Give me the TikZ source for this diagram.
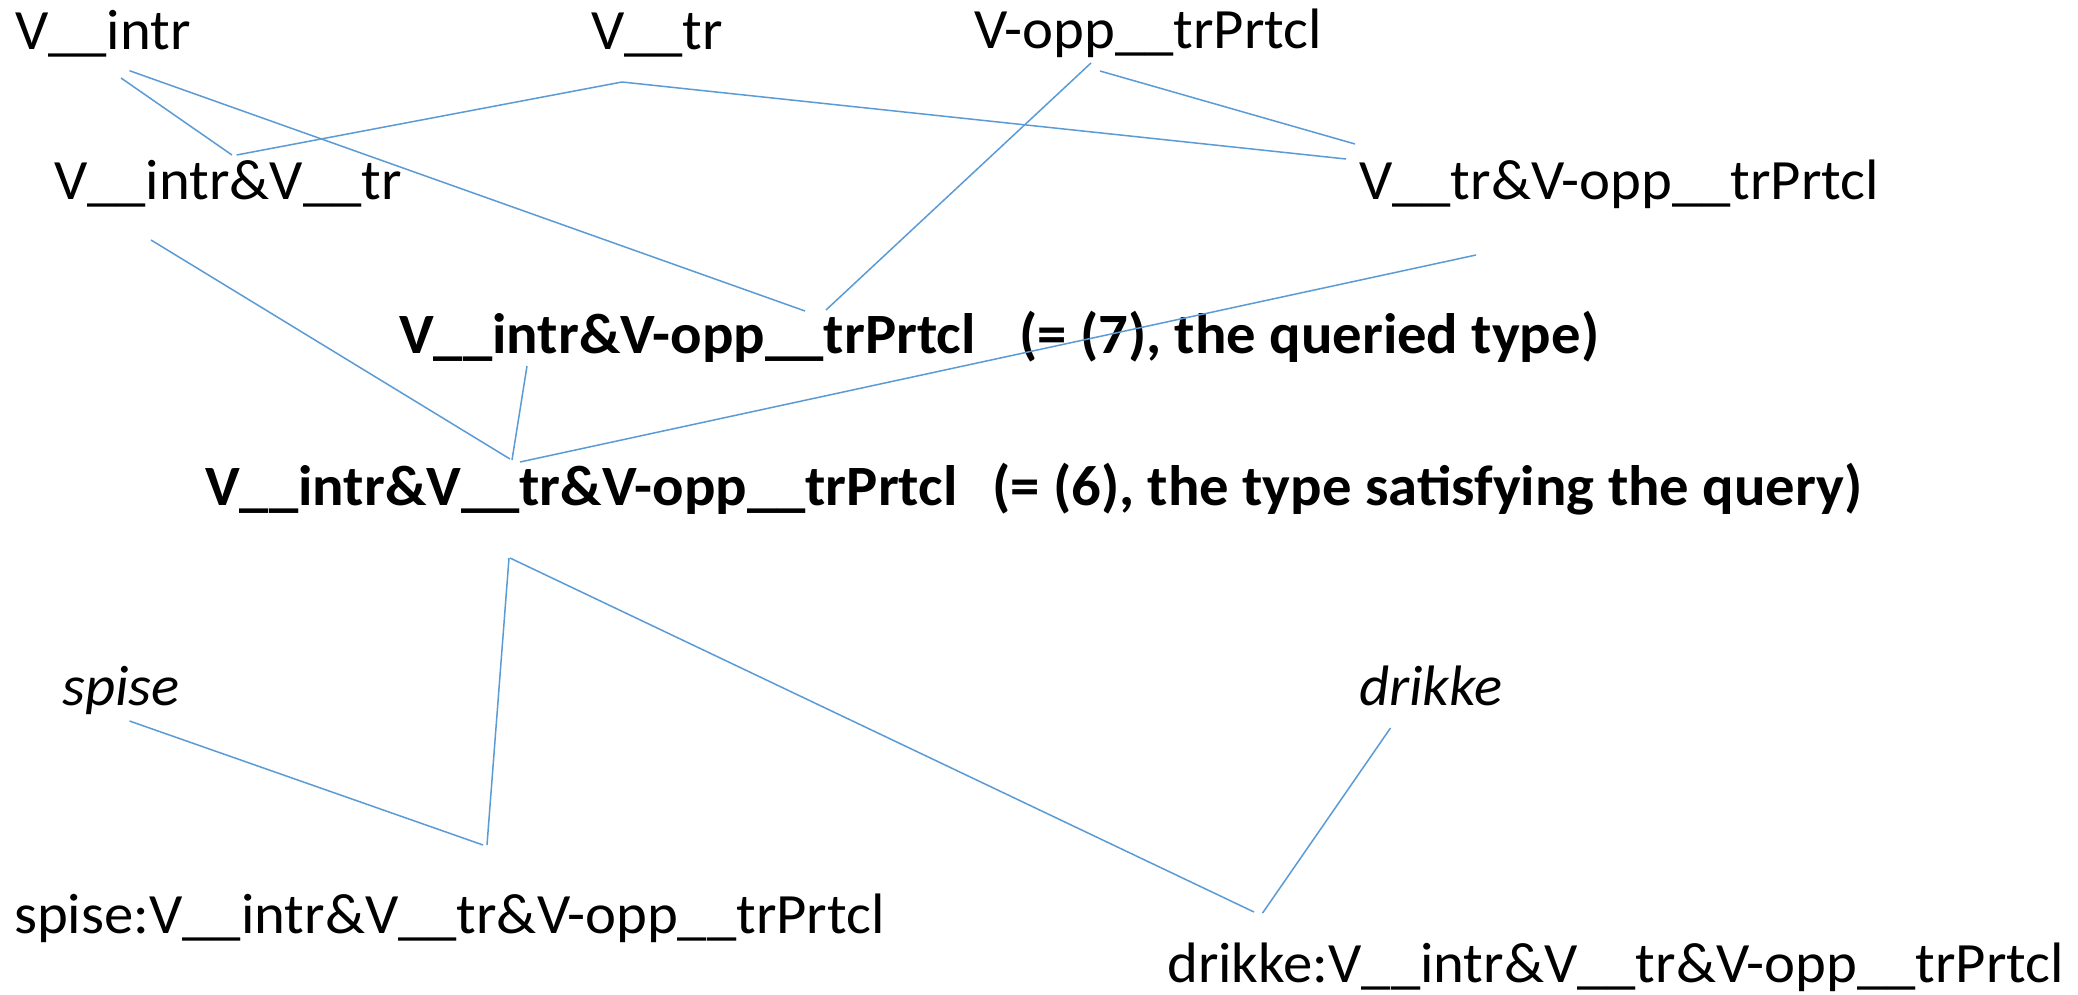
\documentclass[tikz,border=0pt]{standalone}
\usepackage{fontspec}
\setmainfont{Carlito}[FakeStretch=1.03]
\definecolor{linkblue}{RGB}{91,155,213}
\begin{document}
\begin{tikzpicture}[x=1pt,y=-1pt,
  lbl/.style={inner sep=0pt,anchor=base west,font=\fontsize{57}{68}\selectfont},
  blbl/.style={lbl,font=\fontsize{57}{68}\selectfont\bfseries},
  ilbl/.style={lbl,font=\fontsize{57}{68}\selectfont\itshape},
  link/.style={draw=linkblue,line width=1.5pt}]
\fill[white] (0,0) rectangle (2078,995);
\useasboundingbox (0,0) rectangle (2078,995);
% nodes
\node[lbl] (intr) at (15,50) {V\_\_intr};
\node[lbl] (tr) at (591,50) {V\_\_tr};
\node[lbl] (opp) at (974,49) {V-opp\_\_trPrtcl};
\node[lbl] (intrtr) at (54,200) {V\_\_intr\&V\_\_tr};
\node[lbl] (tropp) at (1359,200) {V\_\_tr\&V-opp\_\_trPrtcl};
\node[blbl] (q7) at (399,353) {\makebox[620pt][l]{V\_\_intr\&V-opp\_\_trPrtcl}(= (7), the queried type)};
\node[blbl] (q6) at (205,505) {\makebox[787pt][l]{V\_\_intr\&V\_\_tr\&V-opp\_\_trPrtcl}(= (6), the type satisfying the query)};
\node[ilbl] (spise) at (62,705) {spise};
\node[ilbl] (drikke) at (1359,705) {drikke};
\node[lbl] (spiseL) at (14,933) {spise:V\_\_intr\&V\_\_tr\&V-opp\_\_trPrtcl};
\node[lbl] (drikkeL) at (1167,982) {drikke:V\_\_intr\&V\_\_tr\&V-opp\_\_trPrtcl};
% connector end points
\coordinate (intr-a) at (121,78);
\coordinate (intr-b) at (129.5,70.7);
\coordinate (tr-a) at (622,82);
\coordinate (opp-a) at (1091,63);
\coordinate (opp-b) at (1100,71);
\coordinate (intrtr-t1) at (232,155);
\coordinate (intrtr-t2) at (236.6,155);
\coordinate (intrtr-b) at (151,240);
\coordinate (tropp-t1) at (1346,159);
\coordinate (tropp-t2) at (1355,144);
\coordinate (tropp-b) at (1476,255);
\coordinate (q7-t1) at (805,311);
\coordinate (q7-t2) at (826,310);
\coordinate (q7-b) at (527,366);
\coordinate (q6-t1) at (510,459);
\coordinate (q6-t2) at (512,460);
\coordinate (q6-t3) at (520,462);
\coordinate (q6-b1) at (509,558);
\coordinate (q6-b2) at (510,558);
\coordinate (spise-b) at (129.5,721);
\coordinate (drikke-b) at (1390.5,728);
\coordinate (spiseL-t1) at (487,845);
\coordinate (spiseL-t2) at (483,845);
\coordinate (drikkeL-t1) at (1254,912);
\coordinate (drikkeL-t2) at (1262.6,913);
% connectors
\draw[link] (intr-a) -- (intrtr-t1);
\draw[link] (intr-b) -- (q7-t1);
\draw[link] (tr-a) -- (intrtr-t2);
\draw[link] (tr-a) -- (tropp-t1);
\draw[link] (opp-a) -- (q7-t2);
\draw[link] (opp-b) -- (tropp-t2);
\draw[link] (intrtr-b) -- (q6-t1);
\draw[link] (q7-b) -- (q6-t2);
\draw[link] (tropp-b) -- (q6-t3);
\draw[link] (q6-b1) -- (spiseL-t1);
\draw[link] (q6-b2) -- (drikkeL-t1);
\draw[link] (spise-b) -- (spiseL-t2);
\draw[link] (drikke-b) -- (drikkeL-t2);
\end{tikzpicture}
\end{document}
